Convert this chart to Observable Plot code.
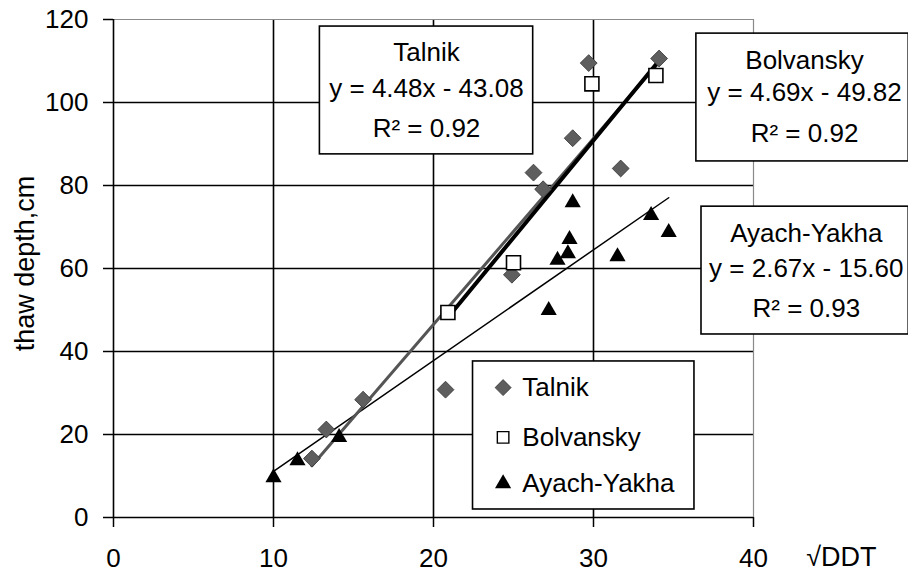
<!DOCTYPE html>
<html>
<head>
<meta charset="utf-8">
<script src="https://cdn.jsdelivr.net/npm/d3@7"></script>
<script src="https://cdn.jsdelivr.net/npm/@observablehq/plot@0.6"></script>
<style>
  html, body { margin: 0; padding: 0; background: #fff; }
</style>
</head>
<body>
<div id="chart"></div>
<script>
// ---- data ----
const seriesNames = ["Talnik", "Bolvansky", "Ayach-Yakha"];

const talnikX = [12.4, 13.3, 15.6, 20.75, 24.9, 26.25, 26.85, 28.7, 29.7, 31.7, 34.1];
const talnikY = [14.2, 21.2, 28.4, 30.8, 58.5, 83.1, 79.1, 91.4, 109.5, 84.1, 110.6];

const bolvanskyX = [20.9, 25.0, 29.9, 33.9];
const bolvanskyY = [49.4, 61.4, 104.5, 106.5];

const ayachX = [10.0, 11.5, 14.1, 27.2, 27.75, 28.4, 28.5, 28.7, 31.5, 33.6, 34.7];
const ayachY = [9.6, 13.7, 19.3, 49.9, 62.0, 63.6, 67.0, 75.9, 62.9, 72.8, 68.7];

const slopes = [4.48, 4.69, 2.67];
const intercepts = [-43.08, -49.82, -15.60];
const rSquared = ["0.92", "0.92", "0.93"];

const xTicks = [0, 10, 20, 30, 40];
const yTicks = [0, 20, 40, 60, 80, 100, 120];
const xTitle = "√DDT";
const yTitle = "thaw depth,cm";

// ---- build tables ----
const zip = (xs, ys, s) => xs.map((x, i) => ({x, y: ys[i], series: s}));
const talnik = zip(talnikX, talnikY, seriesNames[0]);
const bolvansky = zip(bolvanskyX, bolvanskyY, seriesNames[1]);
const ayach = zip(ayachX, ayachY, seriesNames[2]);
const allSeries = [talnik, bolvansky, ayach];

// trend lines spanning each series' x extent
const trends = allSeries.map((pts, i) => {
  const [x0, x1] = d3.extent(pts, d => d.x);
  return [x0, x1].map(x => ({x, y: slopes[i] * x + intercepts[i], series: seriesNames[i]}));
});

const fmtEq = i => `y = ${slopes[i].toFixed(2)}x - ${Math.abs(intercepts[i]).toFixed(2)}`;

// annotation boxes (in data units)
const boxes = [
  {x1: 12.9, x2: 26.23, y1: 87.5, y2: 118.3, cx: 19.56, ly: [112.0, 103.4, 93.7]},
  {x1: 36.43, x2: 49.7, y1: 85.8, y2: 116.6, cx: 43.19, ly: [110.1, 102.4, 92.5]},
  {x1: 36.75, x2: 49.7, y1: 44.1, y2: 74.9, cx: 43.3, ly: [68.4, 60.0, 50.4]}
];
const boxText = [];
boxes.forEach((b, i) => {
  boxText.push({x: b.cx, y: b.ly[0], t: seriesNames[i]});
  boxText.push({x: b.cx, y: b.ly[1], t: fmtEq(i)});
  boxText.push({x: b.cx, y: b.ly[2], t: `R² = ${rSquared[i]}`});
});

// legend
const legendBox = [{x1: 22.47, x2: 36.31, y1: 1.93, y2: 37.6}];
const legendY = [31.3, 19.3, 8.2];
const legendMarkX = 24.35;
const legendTextX = 25.55;
const legendItems = seriesNames.map((s, i) => ({name: s, y: legendY[i]}));

const chart = Plot.plot({
  width: 908,
  height: 574,
  marginLeft: 113,
  marginRight: 155,
  marginTop: 19,
  marginBottom: 57,
  x: {domain: [0, 40]},
  y: {domain: [0, 120]},
  style: {fontFamily: "'Liberation Sans', Arial, sans-serif", fontSize: "26px", background: "#fff", color: "#000", overflow: "visible"},
  marks: [
    // grid
    Plot.ruleY(yTicks.filter(d => d > 0 && d < 120), {stroke: "#000", strokeWidth: 1.6}),
    Plot.ruleX(xTicks.filter(d => d > 0 && d < 40), {stroke: "#000", strokeWidth: 1.6}),
    Plot.ruleY([120], {stroke: "#8a8a8a", strokeWidth: 1.2}),
    Plot.ruleX([40], {stroke: "#8a8a8a", strokeWidth: 1.2}),
    Plot.ruleY([0], {stroke: "#000", strokeWidth: 1.6}),
    Plot.ruleX([0], {stroke: "#000", strokeWidth: 1.6}),
    // axes
    Plot.axisX({ticks: xTicks, tickSize: 10, tickPadding: 21, label: null, strokeWidth: 1.5, tickFormat: d => String(d)}),
    Plot.axisY({ticks: yTicks, tickSize: 10, tickPadding: 15, label: null, strokeWidth: 1.5, tickFormat: d => String(d)}),
    Plot.text([yTitle], {frameAnchor: "left", dx: -88, y: 61.2, rotate: -90, textAnchor: "middle", text: d => d, fontSize: 27}),
    Plot.text([xTitle], {x: 43.3, y: -9.6, text: d => d, textAnchor: "start", fontSize: 27}),
    // trend lines
    Plot.line(trends[2], {x: "x", y: "y", stroke: "#000", strokeWidth: 1.5}),
    Plot.line(trends[0], {x: "x", y: "y", stroke: "#555", strokeWidth: 3}),
    Plot.line(trends[1], {x: "x", y: "y", stroke: "#000", strokeWidth: 4}),
    // points
    Plot.dot(talnik, {x: "x", y: "y", symbol: "diamond2", r: 7.6, fill: "#5e5e5e", stroke: "#333", strokeWidth: 0.8}),
    Plot.dot(bolvansky, {x: "x", y: "y", symbol: "square", r: 7.9, fill: "#fff", stroke: "#000", strokeWidth: 1.6}),
    Plot.dot(ayach, {x: "x", y: "y", symbol: "triangle", r: 6, fill: "#000"}),
    // equation boxes
    Plot.rect(boxes, {x1: "x1", x2: "x2", y1: "y1", y2: "y2", fill: "#fff", stroke: "#000", strokeWidth: 1.6}),
    Plot.text(boxText, {x: "x", y: "y", text: "t", textAnchor: "middle", fontSize: 26}),
    // legend
    Plot.rect(legendBox, {x1: "x1", x2: "x2", y1: "y1", y2: "y2", fill: "#fff", stroke: "#000", strokeWidth: 1.6}),
    Plot.dot([legendItems[0]], {x: legendMarkX, y: "y", symbol: "diamond2", r: 7.2, fill: "#5e5e5e", stroke: "#333", strokeWidth: 0.8}),
    Plot.dot([legendItems[1]], {x: legendMarkX, y: "y", symbol: "square", r: 6.5, fill: "#fff", stroke: "#000", strokeWidth: 1.4}),
    Plot.dot([legendItems[2]], {x: legendMarkX, y: "y", symbol: "triangle", r: 6, fill: "#000"}),
    Plot.text(legendItems, {x: legendTextX, y: "y", text: "name", textAnchor: "start", fontSize: 26})
  ]
});
document.getElementById("chart").appendChild(chart);
</script>
</body>
</html>
